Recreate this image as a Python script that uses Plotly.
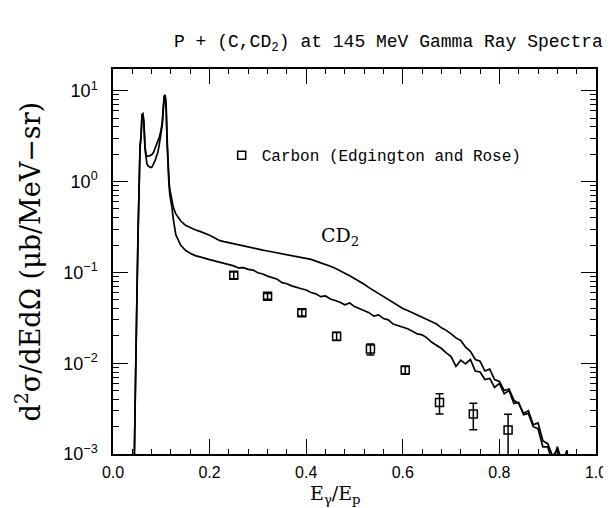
import plotly.graph_objects as go

# ---------------- data ----------------
# peak region (fine bins), shared x grid for both spectra
x_peak = [0.040, 0.044, 0.046, 0.048, 0.050, 0.052, 0.054, 0.056, 0.058, 0.060,
          0.062, 0.064, 0.066, 0.068, 0.070, 0.072, 0.075, 0.078, 0.081, 0.084,
          0.087, 0.090, 0.093, 0.096, 0.099, 0.102, 0.104, 0.106, 0.108, 0.110,
          0.112, 0.114, 0.116, 0.118, 0.120, 0.122, 0.125]
cd2_peak = [0.0003, 0.0008, 0.004, 0.03, 0.08, 0.3, 0.9, 2.5, 3.2, 5.5,
            5.6, 4.5, 2.6, 2.0, 1.9, 1.9, 1.92, 1.95, 2.0, 2.1,
            2.3, 2.5, 2.8, 3.1, 3.6, 4.5, 6.5, 8.8, 9.0, 7.0,
            3.0, 1.6, 1.0, 0.8, 0.7, 0.62, 0.52]
c_peak = [0.0003, 0.0008, 0.004, 0.03, 0.07, 0.28, 0.85, 2.4, 3.0, 5.2,
          5.4, 4.4, 2.4, 1.8, 1.6, 1.5, 1.45, 1.43, 1.45, 1.55,
          1.7, 1.9, 2.1, 2.6, 3.2, 4.2, 6.0, 8.5, 8.8, 6.5,
          2.6, 1.4, 0.9, 0.7, 0.62, 0.52, 0.38]

# continuum region, bins of 0.01 from 0.13 to 0.95
x_cont = [round(0.13 + 0.01 * i, 2) for i in range(83)]
cd2_cont = [0.44, 0.37, 0.33, 0.31, 0.295, 0.283, 0.27, 0.256, 0.24, 0.225,
            0.218, 0.212, 0.205, 0.199, 0.196, 0.19, 0.186, 0.181, 0.176, 0.172,
            0.168, 0.163, 0.160, 0.157, 0.153, 0.150, 0.147, 0.143, 0.139, 0.133,
            0.128, 0.122, 0.117, 0.111, 0.105, 0.098, 0.092, 0.086, 0.080, 0.074,
            0.068, 0.063, 0.058, 0.054, 0.050, 0.046, 0.043, 0.040, 0.038, 0.036,
            0.034, 0.032, 0.030, 0.0285, 0.027, 0.0245, 0.023, 0.021, 0.019, 0.0178,
            0.0150, 0.0135, 0.0110, 0.0105, 0.0082, 0.0086, 0.0066, 0.0063, 0.0050, 0.0052,
            0.0039, 0.0036, 0.0028, 0.0030, 0.0021, 0.0022, 0.0014, 0.0013, 0.00095, 0.0011,
            0.0008, 0.0007, 0.0003]
c_cont = [0.26, 0.20, 0.175, 0.162, 0.153, 0.148, 0.142, 0.138, 0.134, 0.130,
          0.125, 0.123, 0.118, 0.112, 0.113, 0.108, 0.106, 0.099, 0.096, 0.091,
          0.087, 0.084, 0.077, 0.075, 0.071, 0.068, 0.066, 0.064, 0.060, 0.058,
          0.054, 0.055, 0.051, 0.049, 0.047, 0.044, 0.046, 0.042, 0.040, 0.038,
          0.036, 0.033, 0.034, 0.031, 0.030, 0.027, 0.026, 0.025, 0.024, 0.0225,
          0.021, 0.0205, 0.019, 0.017, 0.0158, 0.0145, 0.013, 0.0118, 0.0092, 0.0108,
          0.0098, 0.0110, 0.0082, 0.0080, 0.0066, 0.0068, 0.0054, 0.0060, 0.0046, 0.0050,
          0.0036, 0.0037, 0.0027, 0.0028, 0.0020, 0.0019, 0.0012, 0.0012, 0.0008, 0.0012,
          0.0008, 0.0011, 0.0003]

# Carbon data (Edgington and Rose)
carbon_x = [0.250, 0.320, 0.391, 0.463, 0.533, 0.605, 0.676, 0.746, 0.818]
carbon_y = [0.093, 0.0545, 0.036, 0.0198, 0.0143, 0.0084, 0.0037, 0.00275, 0.00184]
carbon_err_hi = [0.008, 0.004, 0.003, 0.002, 0.002, 0.0008, 0.0009, 0.00088, 0.0009]
carbon_err_lo = [0.008, 0.004, 0.003, 0.002, 0.002, 0.0008, 0.00095, 0.0009, 0.0012]

x_ticks = [0.0, 0.2, 0.4, 0.6, 0.8, 1.0]
x_ticktext = ["0.0", "0.2", "0.4", "0.6", "0.8", "1.0"]
y_ticks = [0.001, 0.01, 0.1, 1, 10]
y_ticktext = ["10<sup>−3</sup>", "10<sup>−2</sup>", "10<sup>−1</sup>", "10<sup>0</sup>", "10<sup>1</sup>"]

# ---------------- figure ----------------
fig = go.Figure()
line_style = dict(color="black", width=1.7, shape="linear")
fig.add_trace(go.Scatter(x=x_peak + x_cont, y=cd2_peak + cd2_cont, mode="lines",
                         line=line_style, showlegend=False, name="CD2"))
fig.add_trace(go.Scatter(x=x_peak + x_cont, y=c_peak + c_cont, mode="lines",
                         line=line_style, showlegend=False, name="C"))
fig.add_trace(go.Scatter(
    x=carbon_x, y=carbon_y, mode="markers", name="Carbon (Edgington and Rose)",
    marker=dict(symbol="square-open", size=8, color="black", line=dict(width=1.5, color="black")),
    error_y=dict(type="data", array=carbon_err_hi, arrayminus=carbon_err_lo,
                 color="black", thickness=1.5, width=4),
    showlegend=True))

fig.update_xaxes(range=[0, 1], tickvals=x_ticks, ticktext=x_ticktext,
                 ticks="inside", ticklen=15, tickwidth=1.2, tickcolor="black",
                 showline=True, linecolor="black", linewidth=1.5, mirror="allticks",
                 showgrid=False, zeroline=False, ticklabelstandoff=3,
                 tickfont=dict(family="Liberation Sans", size=16, color="black"),
                 minor=dict(ticks="inside", ticklen=5, dtick=0.04, tickcolor="black",
                            tickwidth=1, showgrid=False))
fig.update_yaxes(type="log", range=[-3, 1.24], tickvals=y_ticks, ticktext=y_ticktext,
                 ticks="inside", ticklen=15, tickwidth=1.2, tickcolor="black",
                 showline=True, linecolor="black", linewidth=1.5, mirror="allticks",
                 showgrid=False, zeroline=False, ticklabelstandoff=10,
                 tickfont=dict(family="Liberation Sans", size=18, color="black"),
                 minor=dict(ticks="inside", ticklen=6, dtick="D1", tickcolor="black",
                            tickwidth=1, showgrid=False))

fig.update_layout(
    width=611, height=508,
    margin=dict(l=105, r=18, t=61, b=62),
    paper_bgcolor="white", plot_bgcolor="white",
    showlegend=True,
    legend=dict(x=0.225, y=0.776, xanchor="left", yanchor="middle",
                bgcolor="rgba(0,0,0,0)", itemwidth=30,
                font=dict(family="Liberation Mono", size=16, color="black")),
    annotations=[
        dict(text="P + (C,CD<sub>2</sub>) at 145 MeV Gamma Ray Spectra",
             xref="paper", yref="paper", x=1.018, y=1.0, yshift=26,
             xanchor="right", yanchor="middle", showarrow=False,
             font=dict(family="Liberation Mono", size=18, color="black")),
        dict(text="d<sup>2</sup>σ/dEdΩ (μb/MeV−sr)",
             xref="paper", yref="paper", x=0, y=0.5, xshift=-85,
             textangle=-90, xanchor="center", yanchor="middle", showarrow=False,
             font=dict(family="DejaVu Serif", size=27, color="black")),
        dict(text="E<sub>γ</sub>/E<sub>p</sub>",
             xref="paper", yref="paper", x=0.46, y=0, yshift=-40,
             xanchor="center", yanchor="middle", showarrow=False,
             font=dict(family="DejaVu Serif", size=19, color="black")),
        dict(text="CD<sub>2</sub>", xref="x", yref="y", x=0.47, y=-0.60,
             xanchor="center", yanchor="middle", showarrow=False,
             font=dict(family="DejaVu Serif", size=19, color="black")),
    ],
)

fig.write_html("out.html")
